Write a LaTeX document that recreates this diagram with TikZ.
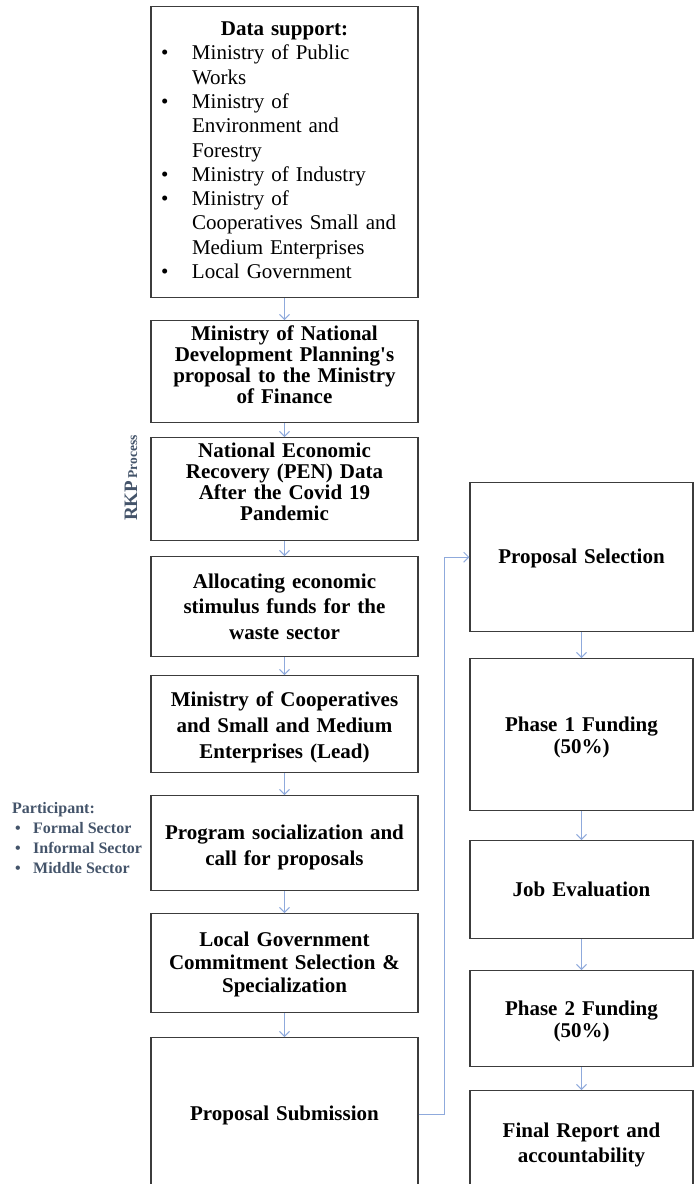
\documentclass[tikz,border=0pt]{standalone}
\usepackage{fontspec}
\setmainfont{Liberation Serif}[Ligatures=TeXOff]
\usepackage{xcolor}
\usetikzlibrary{arrows.meta}
\definecolor{flowblue}{HTML}{8FAADC}
\definecolor{notegray}{HTML}{44546A}
\definecolor{boxline}{HTML}{3C3C3C}
\tikzstyle{stepbox} = [rectangle, draw=boxline, line width=1.4pt, fill=white, anchor=north, align=center, inner xsep=2pt, font=\bfseries\fontsize{21}{21}\selectfont]
\tikzstyle{leftbox} = [stepbox, minimum width=267pt, text width=263pt]
\tikzstyle{rightbox} = [stepbox, minimum width=223pt, text width=219pt]
% text block moved up or down inside its box
\newcommand{\liftlines}[2]{\raisebox{#1}[\height][\depth]{\begin{tabular}{@{}c@{}}#2\end{tabular}}}

\begin{document}
\begin{tikzpicture}[x=1pt,y=-1pt,->,>={Straight Barb[length=5pt,width=10pt]},every edge/.style={draw,flowblue,line width=0.9pt}]
  \useasboundingbox (0,0) rectangle (697,1184);

  % left column
  \node[stepbox, minimum width=267pt, text width=247pt, inner xsep=10pt, minimum height=291pt, align=left, font=\fontsize{21}{24.3}\selectfont] (sup) at (284.5,6) {%
    \begin{tabular}{@{}p{31pt}@{}p{216pt}@{}}
      \multicolumn{2}{@{}c@{}}{\textbf{Data support:}}\\
      \textbullet & Ministry of Public\\
       & Works\\
      \textbullet & Ministry of\\
       & Environment and\\
       & Forestry\\
      \textbullet & Ministry of Industry\\
      \textbullet & Ministry of\\
       & Cooperatives Small and\\
       & Medium Enterprises\\
      \textbullet & Local Government
    \end{tabular}};
  \node[leftbox, minimum height=102pt] (plan) at (284.5,320) {\liftlines{4pt}{Ministry of National\\ Development Planning's\\ proposal to the Ministry\\ of Finance}};
  \node[leftbox, minimum height=103pt] (pen) at (284.5,437) {\liftlines{4.5pt}{National Economic\\ Recovery (PEN) Data\\ After the Covid 19\\ Pandemic}};
  \node[leftbox, minimum height=100pt, font=\bfseries\fontsize{21}{25.5}\selectfont] (alloc) at (284.5,556) {Allocating economic\\ stimulus funds for the\\ waste sector};
  \node[leftbox, minimum height=97pt, font=\bfseries\fontsize{21}{26}\selectfont] (lead) at (284.5,675) {\liftlines{-3.5pt}{Ministry of Cooperatives\\ and Small and Medium\\ Enterprises (Lead)}};
  \node[leftbox, minimum height=95pt, font=\bfseries\fontsize{21}{26}\selectfont] (call) at (284.5,795) {\liftlines{-4pt}{Program socialization and\\ call for proposals}};
  \node[leftbox, minimum height=99pt, font=\bfseries\fontsize{21}{23}\selectfont] (local) at (284.5,913) {\liftlines{-2pt}{Local Government\\ Commitment Selection \&\\ Specialization}};
  \node[leftbox, minimum height=154pt] (submit) at (284.5,1037) {\liftlines{-2pt}{Proposal Submission}};

  % right column
  \node[rightbox, minimum height=149pt] (select) at (581.5,482) {\liftlines{-2pt}{Proposal Selection}};
  \node[rightbox, minimum height=152pt, font=\bfseries\fontsize{21}{22}\selectfont] (fund1) at (581.5,658) {\liftlines{-3.5pt}{Phase 1 Funding\\ (50\%)}};
  \node[rightbox, minimum height=98pt] (eval) at (581.5,840) {\liftlines{-3pt}{Job Evaluation}};
  \node[rightbox, minimum height=96pt, font=\bfseries\fontsize{21}{22}\selectfont] (fund2) at (581.5,970) {\liftlines{-3pt}{Phase 2 Funding\\ (50\%)}};
  \node[rightbox, minimum height=104pt, font=\bfseries\fontsize{21}{25}\selectfont] (report) at (581.5,1090) {\liftlines{-2pt}{Final Report and\\ accountability}};

  % side notes
  \node[rotate=90, text=notegray, font=\bfseries] (rkp) at (131,478) {{\fontsize{19}{19}\selectfont RKP} {\fontsize{13.5}{13.5}\selectfont Process}};
  \node[anchor=north west, align=left, inner sep=0pt, text=notegray, font=\bfseries\fontsize{16}{20}\selectfont] (part) at (12,799) {%
    \begin{tabular}{@{}p{21pt}@{}l@{}}
      \multicolumn{2}{@{}l@{}}{Participant:}\\
      \hspace{3pt}\textbullet & Formal Sector\\
      \hspace{3pt}\textbullet & Informal Sector\\
      \hspace{3pt}\textbullet & Middle Sector
    \end{tabular}};

  \path (sup) edge (plan);
  \path (plan) edge (pen);
  \path (pen) edge (alloc);
  \path (alloc) edge (lead);
  \path (lead) edge (call);
  \path (call) edge (local);
  \path (local) edge (submit);
  \draw[flowblue, line width=0.9pt] (submit.east) -- ++(26,0) |- (select.west);
  \path (select) edge (fund1);
  \path (fund1) edge (eval);
  \path (eval) edge (fund2);
  \path (fund2) edge (report);
\end{tikzpicture}
\end{document}
